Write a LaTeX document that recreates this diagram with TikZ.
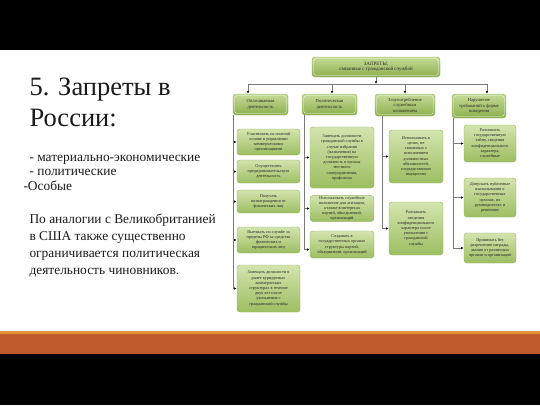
\documentclass[tikz,border=0pt]{standalone}
\usepackage{fontspec}
\setmainfont{Liberation Serif}
\usetikzlibrary{arrows.meta}
\definecolor{orangebar}{HTML}{BF5A2B}
\definecolor{orangetop}{HTML}{E3953C}
\definecolor{boxtop}{HTML}{D3E4AE}
\definecolor{boxmid}{HTML}{BDD58C}
\definecolor{boxbot}{HTML}{9DBE62}
\definecolor{boxline}{HTML}{93B35C}
\definecolor{headtop}{HTML}{C6DB97}
\definecolor{headbot}{HTML}{8CAF4E}
\definecolor{conn}{HTML}{7A7A7A}
\definecolor{txt}{HTML}{1A1A1A}
\tikzset{
  sbox/.style={draw=boxline, line width=0.4pt, rounded corners=3pt,
    top color=boxtop, middle color=boxmid, bottom color=boxbot,
    align=center, inner sep=0.5pt, text=black!85,
    font=\fontsize{4.3}{5.2}\selectfont},
  hbox/.style={sbox, top color=headtop, middle color=boxmid!90!headbot, bottom color=headbot,
    font=\fontsize{4.6}{5.6}\selectfont},
  inset/.style={draw=white!75!boxtop, line width=0.35pt, rounded corners=2pt},
  conline/.style={draw=conn, line width=0.5pt},
  conarrow/.style={draw=conn, line width=0.5pt, -{Latex[length=2.6pt,width=2.2pt,color=black]}},
  lefttext/.style={anchor=base west, text=txt},
}
\newcommand{\boxat}[7]{% style, name, x1, y1, x2, y2, text
  \node[#1, minimum width=#5pt-#3pt, minimum height=#6pt-#4pt] (#2) at ({(#3+#5)/2},{(#4+#6)/2}) {#7};}
\begin{document}
\begin{tikzpicture}[x=1pt,y=-1pt]
\fill[black] (0,0) rectangle (540,50);
\fill[white] (0,50) rectangle (540,331);
\fill[orangetop] (0,331) rectangle (540,333.5);
\fill[orangebar] (0,333.5) rectangle (540,354);
\fill[black] (0,354) rectangle (540,405);
\useasboundingbox (0,0) rectangle (540,405);

% left text
\node[lefttext, font=\fontsize{26.5}{31}\selectfont] (t1) at (26,95) {5. Запреты в};
\node[lefttext, font=\fontsize{26.5}{31}\selectfont] (t2) at (26,126) {России:};
\node[lefttext, font=\fontsize{13.4}{15}\selectfont] (b1) at (26,161) {- материально-экономические};
\node[lefttext, font=\fontsize{13.4}{15}\selectfont] (b2) at (26,175.5) {- политические};
\node[lefttext, font=\fontsize{13.4}{15}\selectfont] (b3) at (20,190) {-Особые};
\node[lefttext, font=\fontsize{13.4}{15}\selectfont] (p1) at (26,223) {По аналогии с Великобританией};
\node[lefttext, font=\fontsize{13.4}{15}\selectfont] (p2) at (26,240) {в США также существенно};
\node[lefttext, font=\fontsize{13.4}{15}\selectfont] (p3) at (26,257) {ограничивается политическая};
\node[lefttext, font=\fontsize{13.4}{15}\selectfont] (p4) at (26,274) {деятельность чиновников.};

% top and category boxes
\boxat{hbox}{T}{312}{57}{440}{77}{\fontsize{5}{6.2}\selectfont ЗАПРЕТЫ,\\\fontsize{5}{6.2}\selectfont связанные с гражданской службой}
\boxat{hbox}{C1}{233}{94}{288}{115}{Оплачиваемая\\деятельность}
\boxat{hbox}{C2}{302}{94}{357}{115}{Политическая\\деятельность}
\boxat{hbox}{C3}{375}{94}{435}{116}{Злоупотребление\\служебным\\положением}
\boxat{hbox}{C4}{452}{94}{506}{118}{Нарушение\\требований к форме\\поведения}
\foreach \n in {T,C1,C2,C3,C4}{
  \draw[inset] ([shift={(2,2)}]\n.north west) rectangle ([shift={(-2,-2)}]\n.south east);
}

% column 1
\boxat{sbox}{s11}{237}{129}{300}{155}{Участвовать на платной\\основе в управлении\\коммерческими\\организациями}
\boxat{sbox}{s12}{237}{160}{300}{183}{Осуществлять\\предпринимательскую\\деятельность}
\boxat{sbox}{s13}{237}{190}{300}{213}{Получать\\вознаграждения от\\физических лиц}
\boxat{sbox}{s14}{237}{227}{300}{253}{Выезжать по службе за\\пределы РФ за средства\\физических и\\юридических лиц}
\boxat{sbox}{s15}{237}{265}{300}{312}{Замещать должности в\\ранее курируемых\\коммерческих\\структурах в течение\\двух лет после\\увольнения с\\гражданской службы}
% column 2
\boxat{sbox}{s21}{310}{127}{374}{188}{Замещать должности\\гражданской службы в\\случае избрания\\(назначения) на\\государственную\\должность в органы\\местного\\самоуправления,\\профсоюза}
\boxat{sbox}{s22}{310}{197}{374}{220}{Использовать служебное\\положение для агитации,\\а также в интересах\\партий, объединений,\\организаций}
\boxat{sbox}{s23}{310}{231}{374}{258}{Создавать в\\государственных органах\\структуры партий,\\объединений, организаций}
% column 3
\boxat{sbox}{s31}{389}{130}{443}{183}{Использовать в\\целях, не\\связанных с\\исполнением\\должностных\\обязанностей,\\государственное\\имущество}
\boxat{sbox}{s32}{389}{202}{443}{255}{Разглашать\\сведения\\конфиденциального\\характера после\\увольнения с\\гражданской\\службы}
% column 4
\boxat{sbox}{s41}{464}{125}{516}{162}{Разглашать\\государственную\\тайну, сведения\\конфиденциального\\характера,\\служебные}
\boxat{sbox}{s42}{464}{178}{516}{217}{Допускать публичные\\высказывания о\\государственных\\органах, их\\руководителях и\\решениях}
\boxat{sbox}{s43}{464}{233}{516}{263}{Принимать без\\разрешения награды,\\звания от различных\\органов и организаций}

% top connectors
\coordinate (hub) at (376,84);
\coordinate (d1) at (248,84);
\coordinate (d2) at (332,84);
\coordinate (d3) at (405,84);
\coordinate (d4) at (487,84);
\draw[conarrow] (T.south) -- (hub);
\draw[conline] (d1) -- (d4);
\draw[conarrow] (d1) -- (d1 |- C1.north);
\draw[conarrow] (d2) -- (d2 |- C2.north);
\draw[conarrow] (d3) -- (d3 |- C3.north);
\draw[conarrow] (d4) -- (d4 |- C4.north);

% column trunks
\coordinate (v1) at ([xshift=0.5pt]C1.south west);
\coordinate (v2) at ([xshift=2.5pt]C2.south west);
\coordinate (v3) at ([xshift=7pt]C3.south west);
\coordinate (v4) at ([xshift=1pt]C4.south west);
\draw[conline] (v1) -- (v1 |- s15.west);
\foreach \s in {s11,s12,s13,s14,s15}{\draw[conarrow] (v1 |- \s.west) -- (\s.west);}
\draw[conline] (v2) -- ([yshift=-5pt]v2 |- s23.west);
\draw[conarrow] (v2 |- s21.west) -- (s21.west);
\draw[conarrow] (v2 |- s22.west) -- (s22.west);
\draw[conarrow] ([yshift=-5pt]v2 |- s23.west) -- ([yshift=-5pt]s23.west);
\draw[conline] (v3) -- (v3 |- s32.west);
\foreach \s in {s31,s32}{\draw[conarrow] (v3 |- \s.west) -- (\s.west);}
\draw[conline] (v4) -- (v4 |- s43.west);
\foreach \s in {s41,s42,s43}{\draw[conarrow] (v4 |- \s.west) -- (\s.west);}
\end{tikzpicture}
\end{document}
